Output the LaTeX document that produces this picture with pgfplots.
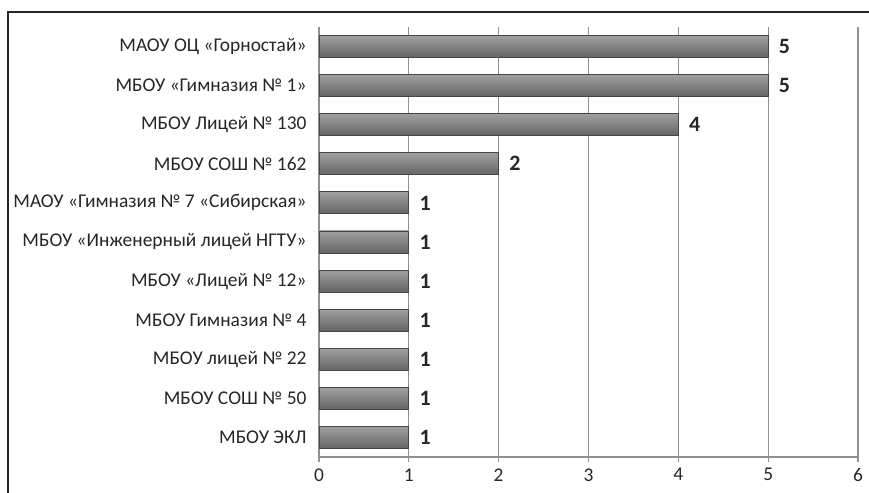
\documentclass[border=0pt]{standalone}
\usepackage{fontspec}
\setmainfont{Carlito}
\usepackage{pgfplots}
\pgfplotsset{compat=1.18}
\definecolor{barhi}{RGB}{192,192,192}
\definecolor{bartop}{RGB}{160,160,160}
\definecolor{barlo}{RGB}{100,100,100}
\definecolor{baredge}{RGB}{70,70,70}
\definecolor{axgray}{RGB}{145,145,145}
\pgfplotsset{
  gbar/.style={draw=baredge, top color=bartop, middle color=barhi,
    bottom color=barlo, line width=0.9bp, bar shift=0pt},
}
\begin{document}
\begin{tikzpicture}[x=1bp,y=1bp]
\path[use as bounding box] (0,0) rectangle (869,493);
\draw[line width=1.2bp, black!85] (8,-10) -- (8,481) -- (880,481);
\begin{axis}[
    at={(319bp,36bp)}, anchor=south west,
    scale only axis, width=539bp, height=430bp,
    xbar, bar width=22bp,
    xmin=0, xmax=6, ymin=-0.5, ymax=10.5,
    axis lines*=left,
    axis line style={axgray, line width=1.2bp},
    xtick={0,...,6},
    ytick={0,...,10},
    yticklabels={МБОУ ЭКЛ, МБОУ СОШ № 50, МБОУ лицей № 22, МБОУ Гимназия № 4,
        МБОУ «Лицей № 12», МБОУ «Инженерный лицей НГТУ», МАОУ «Гимназия № 7 «Сибирская»,
        МБОУ СОШ № 162, МБОУ Лицей № 130, МБОУ «Гимназия № 1», МАОУ ОЦ «Горностай»},
    minor ytick={-0.5,0.5,...,10.5},
    tick align=outside,
    major tick length=5bp, minor tick length=5bp,
    ytick style={draw=none},
    minor tick style={draw=axgray, line width=1.2bp},
    xtick style={draw=axgray, line width=1.2bp},
    xmajorgrids,
    major grid style={axgray, line width=1.2bp},
    tick label style={font=\fontsize{19.5}{19.5}\selectfont, text=black!85},
    /pgf/number format/assume math mode=true,
    xticklabel style={yshift=-3bp},
    yticklabel style={xshift=-4bp},
    nodes near coords,
    every node near coord/.append style={font=\fontsize{22}{22}\selectfont\bfseries, text=black!85, anchor=west, xshift=7bp},
]
\addplot[gbar] coordinates {(1,0)};
\addplot[gbar] coordinates {(1,1)};
\addplot[gbar] coordinates {(1,2)};
\addplot[gbar] coordinates {(1,3)};
\addplot[gbar] coordinates {(1,4)};
\addplot[gbar] coordinates {(1,5)};
\addplot[gbar] coordinates {(1,6)};
\addplot[gbar] coordinates {(2,7)};
\addplot[gbar] coordinates {(4,8)};
\addplot[gbar] coordinates {(5,9)};
\addplot[gbar] coordinates {(5,10)};
\end{axis}
\end{tikzpicture}
\end{document}
